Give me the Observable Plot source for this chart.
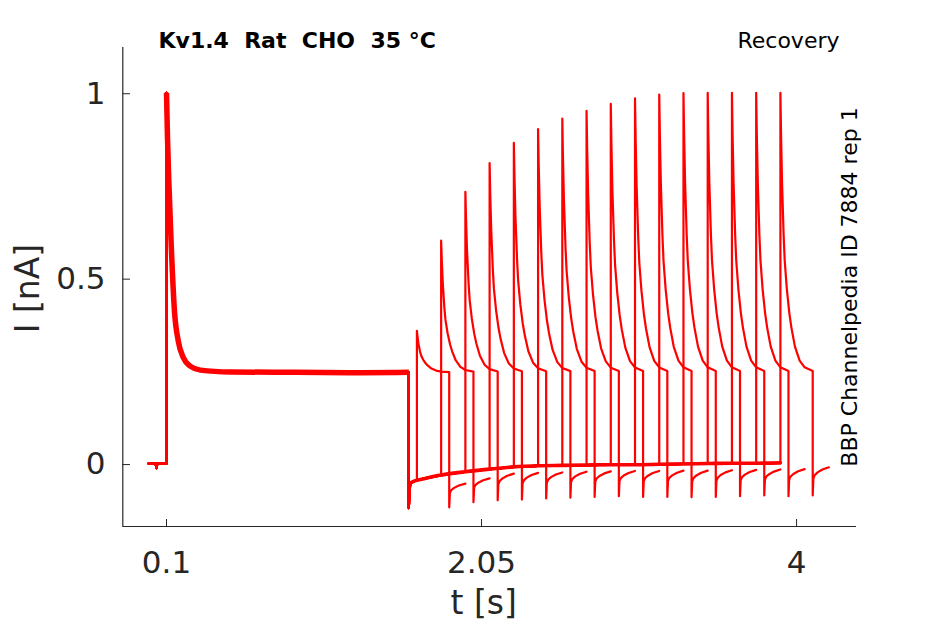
<!DOCTYPE html>
<html><head><meta charset="utf-8">
<script src="https://cdn.jsdelivr.net/npm/d3@7"></script>
<script src="https://cdn.jsdelivr.net/npm/@observablehq/plot@0.6"></script>
<style>
html,body{margin:0;padding:0;background:#fff;}
svg text{white-space:pre;}
</style></head><body><div id="chart"></div>
<script>
// ---- axes / ticks ----
const xDomain = [-0.1705, 4.371];
const yDomain = [-0.1697, 1.122];
const xTicks = [0.1, 2.05, 4];
const xTickLabels = ["0.1", "2.05", "4"];
const yTicks = [0, 0.5, 1];
const yTickLabels = ["0", "0.5", "1"];

// ---- protocol timing (s) ----
const stepOn = 0.1;
const stepOff = 1.6;
const testDur = 0.2;
const testStart = [1.65, 1.80, 1.95, 2.10, 2.25, 2.40, 2.55, 2.70, 2.85, 3.00, 3.15, 3.30, 3.45, 3.60, 3.75, 3.90];
const testPeak  = [0.358, 0.601, 0.733, 0.810, 0.865, 0.902, 0.930, 0.951, 0.970, 0.985, 0.995, 0.999, 1.0, 1.0, 1.0, 1.0];
const tailMin   = [-0.118, -0.104, -0.099, -0.097, -0.094, -0.092, -0.090, -0.088, -0.090, -0.090, -0.091, -0.090, -0.088, -0.086, -0.088, -0.086];
const tailEnd   = [-0.054, -0.040, -0.027, -0.025, -0.024, -0.022, -0.021, -0.020, -0.020, -0.019, -0.019, -0.018, -0.017, -0.016, -0.015, -0.010];

// ---- baseline before the conditioning step ----
const baseT = [-0.011, 0.034, 0.036, 0.038, 0.040, 0.042, 0.1];
const baseI = [0, 0, -0.010, -0.012, -0.010, 0, 0];

// ---- conditioning pulse (time since step on, current nA) ----
const preT = [0, 0.006, 0.0142, 0.0297, 0.0495, 0.073, 0.105, 0.149, 0.21, 0.396, 0.8, 1.2, 1.5];
const preI = [1.0, 0.88, 0.764, 0.584, 0.41, 0.33, 0.285, 0.262, 0.252, 0.247, 0.246, 0.245, 0.246];

// ---- recovery at rest after the step (time since step off) ----
const recT = [0, 0.004, 0.012, 0.03, 0.05, 0.1, 0.2, 0.35, 0.5, 0.65, 0.8, 0.95, 1.1, 1.25, 1.4, 1.55, 1.7, 1.85, 2.0, 2.15, 2.3];
const recI = [-0.12, -0.065, -0.052, -0.048, -0.045, -0.040, -0.031, -0.022, -0.015, -0.009, -0.006, -0.005, -0.004, -0.003, -0.003, -0.002, -0.001, 0.0, 0.001, 0.001, 0.002];

// ---- test pulse decay: fraction of (peak - plateau) ----
const testPlateau = 0.246;
const decayT = [0, 0.004, 0.01, 0.02, 0.0266, 0.04, 0.055, 0.068, 0.09, 0.119, 0.15, 0.2];
const decayF = [1, 0.85, 0.68, 0.49, 0.40, 0.297, 0.213, 0.16, 0.092, 0.042, 0.018, 0.005];

// ---- tail after the test pulse: fraction from tailMin to tailEnd ----
const tailT = [0, 0.004, 0.012, 0.03, 0.06, 0.1];
const tailF = [0, 0.6, 0.72, 0.82, 0.92, 1.0];

// ---- build the traces ----
const pts = [];
testStart.forEach((ts, k) => {
  baseT.forEach((t, j) => pts.push({k, t, i: baseI[j]}));
  preT.forEach((dt, j) => pts.push({k, t: stepOn + dt, i: preI[j]}));
  pts.push({k, t: stepOff, i: preI[preI.length - 1]});
  recT.forEach((dt, j) => { if (stepOff + dt <= ts + 1e-6) pts.push({k, t: stepOff + dt, i: recI[j]}); });
  decayT.forEach((dt, j) => pts.push({k, t: ts + dt, i: testPlateau + (testPeak[k] - testPlateau) * decayF[j]}));
  tailT.forEach((dt, j) => pts.push({k, t: ts + testDur + dt, i: tailMin[k] + (tailEnd[k] - tailMin[k]) * tailF[j]}));
});
// overlapping noisy segments shared by all traces
const bandPre = preT.map((dt, j) => ({t: stepOn + dt, i: preI[j]})).concat([{t: stepOff, i: preI[preI.length - 1]}]);
const bandRec = recT.slice(1).filter(dt => stepOff + dt <= testStart[testStart.length - 1] + 1e-6).map((dt) => ({t: stepOff + dt, i: recI[recT.indexOf(dt)]}));

const red = "#ff0000";
const ink = "#262626";

const chart = Plot.plot({
  width: 945, height: 624,
  marginLeft: 122.3, marginRight: 89, marginTop: 47, marginBottom: 98,
  style: {fontFamily: "DejaVu Sans", background: "#fff", overflow: "visible"},
  x: {domain: xDomain},
  y: {domain: yDomain},
  marks: [
    Plot.line(bandPre, {x: "t", y: "i", stroke: red, strokeWidth: 5.5, curve: "monotone-x", strokeLinejoin: "round", strokeLinecap: "butt"}),
    Plot.line(bandRec, {x: "t", y: "i", stroke: red, strokeWidth: 3.6, curve: "monotone-x", strokeLinejoin: "round", strokeLinecap: "round"}),
    Plot.line(pts, {x: "t", y: "i", z: "k", stroke: red, strokeWidth: 2.2, strokeLinejoin: "round"}),
    Plot.ruleX([xDomain[0]], {stroke: ink, strokeWidth: 1.2}),
    Plot.ruleY([yDomain[0]], {stroke: ink, strokeWidth: 1.2}),
    Plot.axisY(yTicks, {tickSize: 7.7, tickPadding: 9.6, fontSize: 31, dy: 1, color: ink, label: null,
      tickFormat: (d) => yTickLabels[yTicks.indexOf(d)]}),
    Plot.axisX(xTicks, {tickSize: 7, tickPadding: 17, fontSize: 31, color: ink, label: null,
      tickFormat: (d) => xTickLabels[xTicks.indexOf(d)]}),
    Plot.text(["I [nA]"], {frameAnchor: "left", rotate: -90, dx: -94.8, dy: 1.5, fontSize: 33, fill: ink, textAnchor: "middle", lineAnchor: "middle"}),
    Plot.text(["t [s]"], {frameAnchor: "bottom", dx: -6, dy: 77, fontSize: 33, fill: ink, textAnchor: "middle", lineAnchor: "middle"}),
    Plot.text(["Kv1.4  Rat  CHO  35 °C"], {frameAnchor: "top-left", dx: 35.7, dy: 0, fontSize: 22, fontWeight: "bold", fill: "#000", textAnchor: "start", lineAnchor: "bottom"}),
    Plot.text(["Recovery"], {frameAnchor: "top-right", dx: -17, dy: 0, fontSize: 22, fill: "#000", textAnchor: "end", lineAnchor: "bottom"}),
    Plot.text(["BBP Channelpedia ID 7884 rep 1"], {frameAnchor: "right", rotate: -90, dx: -7, fontSize: 22, fill: "#000", textAnchor: "middle", lineAnchor: "middle"})
  ]
});
// MATLAB-style inward ticks
d3.select(chart).selectAll('g[aria-label="y-axis tick"] path').attr("d", "M0,0L7.7,0");
d3.select(chart).selectAll('g[aria-label="x-axis tick"] path').attr("d", "M0,0L0,-7");
document.getElementById("chart").appendChild(chart);
</script>
</body></html>
